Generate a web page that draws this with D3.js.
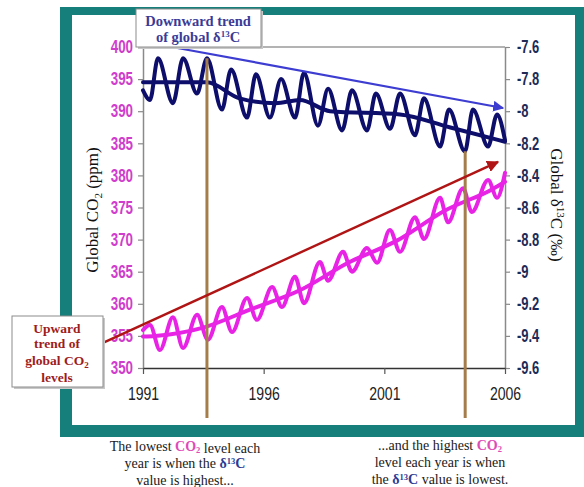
<!DOCTYPE html>
<html>
<head>
<meta charset="utf-8">
<script src="https://cdn.jsdelivr.net/npm/d3@7"></script>
<style>
  body { margin: 0; background: #fff; }
  svg { display: block; }
</style>
</head>
<body>
<div id="chart"></div>
<script>
// tick labels
const yearTicks = [1991, 1996, 2001, 2006];
const co2Ticks = [350, 355, 360, 365, 370, 375, 380, 385, 390, 395, 400];
const d13cTicks = [-9.6, -9.4, -9.2, -9.0, -8.8, -8.6, -8.4, -8.2, -8.0, -7.8, -7.6];

// global CO2 (ppm), seasonal peaks and troughs
const co2Time = [1991.00, 1991.29, 1991.70, 1992.24, 1992.66, 1993.24, 1993.69, 1994.27, 1994.69, 1995.31,
  1995.72, 1996.35, 1996.76, 1997.30, 1997.67, 1998.33, 1998.67, 1999.29, 1999.66, 2000.28, 2000.70,
  2001.23, 2001.65, 2002.27, 2002.64, 2003.31, 2003.64, 2004.26, 2004.63, 2005.30, 2005.67, 2006.00];
const co2Values = [355.9, 356.7, 352.8, 357.9, 353.1, 358.3, 354.4, 359.5, 355.6, 360.9,
  357.5, 362.6, 359.5, 364.2, 360.1, 366.5, 363.6, 368.1, 365.0, 368.7, 366.4,
  371.5, 368.1, 373.5, 370.1, 376.5, 372.7, 378.0, 374.3, 379.3, 376.5, 380.4];
const co2TrendTime = [1991.0, 1991.5, 1993.5, 1995.5, 1997.5, 1999.5, 2001.5, 2003.5, 2005.5, 2006.0];
const co2TrendValues = [354.9, 355.0, 356.3, 359.2, 362.1, 366.4, 369.8, 374.5, 377.9, 379.0];

// global delta 13C (per mil)
const d13cTime = [1991.00, 1991.29, 1991.62, 1992.24, 1992.66, 1993.24, 1993.65, 1994.27, 1994.65, 1995.31,
  1995.68, 1996.26, 1996.72, 1997.30, 1997.67, 1998.25, 1998.67, 1999.25, 1999.66, 2000.28, 2000.65,
  2001.24, 2001.65, 2002.27, 2002.64, 2003.31, 2003.68, 2004.34, 2004.67, 2005.30, 2005.67, 2006.00];
const d13cValues = [-7.87, -7.93, -7.67, -7.95, -7.67, -7.89, -7.67, -7.99, -7.74, -8.04,
  -7.77, -8.04, -7.80, -8.04, -7.76, -8.09, -7.86, -8.12, -7.87, -8.12, -7.89,
  -8.11, -7.89, -8.15, -7.92, -8.22, -7.99, -8.25, -7.99, -8.22, -8.02, -8.18];
const d13cTrendTime = [1991.0, 1993.65, 1995.0, 1996.5, 1997.5, 1998.75, 2001.65, 2003.7, 2006.0];
const d13cTrendValues = [-7.82, -7.82, -7.92, -7.95, -7.93, -8.00, -8.02, -8.10, -8.19];

// the two highlighted years (vertical lines) and the delta13C value where each line starts
const markerYears = [1993.65, 2004.35];
const markerTops = [-7.67, -8.25];

const width = 584, height = 487;
const plot = {left: 143, right: 505, top: 47, bottom: 368};

const teal = '#167f7b';
const navy = '#0d0d6b';
const magenta = '#e823e6';
const magentaText = '#d03ccc';
const brown = '#a57d4a';

const svg = d3.select('#chart').append('svg')
  .attr('width', width)
  .attr('height', height);

const defs = svg.append('defs');
[['blueHead', '#3d3dd2'], ['redHead', '#b01414']].forEach(([id, col]) => {
  defs.append('marker')
    .attr('id', id)
    .attr('viewBox', '0 0 10 10')
    .attr('refX', 9).attr('refY', 5)
    .attr('markerWidth', 5).attr('markerHeight', 5)
    .attr('orient', 'auto')
    .append('path')
    .attr('d', 'M0,0 L10,5 L0,10 z')
    .attr('fill', col);
});

// squeeze text horizontally, the labels use a narrow face in the original
function squeeze(sel, k) {
  sel.each(function() {
    const w = this.getComputedTextLength();
    d3.select(this).attr('textLength', w * k).attr('lengthAdjust', 'spacingAndGlyphs');
  });
}

// teal frame
svg.append('rect').attr('x', 60).attr('y', 7).attr('width', 524).attr('height', 430).attr('fill', teal);
svg.append('rect').attr('x', 72).attr('y', 15).attr('width', 503).attr('height', 410).attr('fill', '#fff');

const x = d3.scaleLinear().domain([1991, 2006]).range([plot.left, plot.right]);
const yCo2 = d3.scaleLinear().domain([350, 400]).range([plot.bottom, plot.top]);
const yD13c = d3.scaleLinear().domain([-9.6, -7.6]).range([plot.bottom, plot.top]);

// top border of the plot
svg.append('line')
  .attr('x1', plot.left).attr('x2', plot.right)
  .attr('y1', plot.top).attr('y2', plot.top)
  .attr('stroke', '#9a9a9a').attr('stroke-width', 1.5);

const sans = "'Liberation Sans', Arial, sans-serif";

const leftAxis = svg.append('g')
  .attr('transform', 'translate(' + plot.left + ',0)')
  .call(d3.axisLeft(yCo2).tickValues(co2Ticks).tickSize(5).tickPadding(5).tickSizeOuter(0));
leftAxis.selectAll('text')
  .attr('fill', magentaText)
  .style('font-family', sans).style('font-size', '18px').style('font-weight', 'bold')
  .call(squeeze, 0.74);

const rightAxis = svg.append('g')
  .attr('transform', 'translate(' + plot.right + ',0)')
  .call(d3.axisRight(yD13c).tickValues(d13cTicks).tickSize(5).tickPadding(7).tickSizeOuter(0)
    .tickFormat(d => String(+d.toFixed(1))));
rightAxis.selectAll('text')
  .attr('fill', '#1d2b57')
  .style('font-family', sans).style('font-size', '18px').style('font-weight', 'bold')
  .call(squeeze, 0.72);

const bottomAxis = svg.append('g')
  .attr('transform', 'translate(0,' + plot.bottom + ')')
  .call(d3.axisBottom(x).tickValues(yearTicks).tickSize(6).tickPadding(13).tickSizeOuter(0)
    .tickFormat(d3.format('d')));
bottomAxis.selectAll('text')
  .attr('fill', '#222')
  .style('font-family', sans).style('font-size', '18px')
  .call(squeeze, 0.78);

[leftAxis, rightAxis].forEach(g => {
  g.select('.domain').attr('stroke', '#8a8a8a').attr('stroke-width', 1.5);
  g.selectAll('.tick line').attr('stroke', '#8a8a8a').attr('stroke-width', 1.2);
});
bottomAxis.select('.domain').attr('stroke', '#333').attr('stroke-width', 1.5);
bottomAxis.selectAll('.tick line').attr('stroke', '#555').attr('stroke-width', 1.2);

// axis titles
svg.append('text')
  .attr('transform', 'translate(98,210) rotate(-90)')
  .attr('text-anchor', 'middle')
  .style('font-family', "'Liberation Serif', serif").style('font-size', '17px').attr('fill', '#111')
  .call(t => {
    t.append('tspan').text('Global CO');
    t.append('tspan').attr('dy', 4).style('font-size', '11px').text('2');
    t.append('tspan').attr('dy', -4).text(' (ppm)');
  });

svg.append('text')
  .attr('transform', 'translate(551,205) rotate(90)')
  .attr('text-anchor', 'middle')
  .style('font-family', "'Liberation Serif', serif").style('font-size', '17px').attr('fill', '#111')
  .call(t => {
    t.append('tspan').text('Global δ');
    t.append('tspan').attr('dy', -6).style('font-size', '11px').text('13');
    t.append('tspan').attr('dy', 6).text('C (‰)');
  });

// series
const co2Pts = co2Time.map((t, i) => [t, co2Values[i]]);
const co2Trend = co2TrendTime.map((t, i) => [t, co2TrendValues[i]]);
const d13cPts = d13cTime.map((t, i) => [t, d13cValues[i]]);
const d13cTrend = d13cTrendTime.map((t, i) => [t, d13cTrendValues[i]]);

const lineCo2 = d3.line().x(d => x(d[0])).y(d => yCo2(d[1])).curve(d3.curveMonotoneX);
const lineD13c = d3.line().x(d => x(d[0])).y(d => yD13c(d[1])).curve(d3.curveMonotoneX);

[[co2Pts, lineCo2, magenta], [co2Trend, lineCo2, magenta],
 [d13cPts, lineD13c, navy], [d13cTrend, lineD13c, navy]].forEach(([data, gen, col]) => {
  svg.append('path')
    .datum(data)
    .attr('d', gen)
    .attr('fill', 'none')
    .attr('stroke', col)
    .attr('stroke-width', 4)
    .attr('stroke-linejoin', 'round')
    .attr('stroke-linecap', 'round');
});

// highlighted years
svg.selectAll('.marker')
  .data(markerYears)
  .enter().append('line')
  .attr('x1', d => x(d)).attr('x2', d => x(d))
  .attr('y1', (d, i) => yD13c(markerTops[i]))
  .attr('y2', 418)
  .attr('stroke', brown)
  .attr('stroke-width', 3);

// trend arrows
svg.append('line')
  .attr('x1', x(1992.2)).attr('y1', yD13c(-7.6))
  .attr('x2', x(2005.92)).attr('y2', yD13c(-7.98))
  .attr('stroke', '#3d3dd2').attr('stroke-width', 2.2)
  .attr('marker-end', 'url(#blueHead)');

svg.append('line')
  .attr('x1', x(1989.34)).attr('y1', yCo2(353.9))
  .attr('x2', x(2005.71)).attr('y2', yCo2(382.1))
  .attr('stroke', '#b01414').attr('stroke-width', 2.4)
  .attr('marker-end', 'url(#redHead)');

// annotation boxes
const serifBold = "'Liberation Serif', 'DejaVu Serif', serif";

function box(x0, y0, w, h) {
  svg.append('rect').attr('x', x0 + 2).attr('y', y0 + 2).attr('width', w).attr('height', h).attr('fill', '#c8c8c8');
  svg.append('rect').attr('x', x0).attr('y', y0).attr('width', w).attr('height', h)
    .attr('fill', '#fff').attr('stroke', '#8c8c8c').attr('stroke-width', 1);
}

box(136, 9, 125, 38);
const downText = svg.append('text')
  .attr('text-anchor', 'middle')
  .style('font-family', serifBold).style('font-size', '14.5px').style('font-weight', 'bold')
  .attr('fill', '#3b3b97');
downText.append('tspan').attr('x', 198).attr('y', 26).text('Downward trend');
downText.append('tspan').attr('x', 198).attr('y', 42).text('of global δ')
  .append('tspan').attr('dy', -5).style('font-size', '9px').text('13');
downText.append('tspan').attr('dy', 5).text('C');

box(12, 316, 91, 71);
const upText = svg.append('text')
  .attr('text-anchor', 'middle')
  .style('font-family', serifBold).style('font-size', '13.5px').style('font-weight', 'bold')
  .attr('fill', '#9e1c1c');
upText.append('tspan').attr('x', 57).attr('y', 333).text('Upward');
upText.append('tspan').attr('x', 57).attr('y', 348).text('trend of');
upText.append('tspan').attr('x', 57).attr('y', 365).text('global CO');
upText.append('tspan').attr('dy', 3).style('font-size', '9px').text('2');
upText.append('tspan').attr('x', 57).attr('y', 382).attr('dy', 0).text('levels');

// captions
const capFont = "'Liberation Serif', serif";
function caption(cx, y, parts) {
  const t = svg.append('text')
    .attr('x', cx).attr('y', y)
    .attr('text-anchor', 'middle')
    .style('font-family', capFont).style('font-size', '14px')
    .attr('fill', '#1a1a1a');
  parts.forEach(p => {
    if (p === 'CO2') {
      t.append('tspan').attr('fill', '#e04bb7').style('font-weight', 'bold').text('CO');
      t.append('tspan').attr('fill', '#e04bb7').style('font-weight', 'bold').attr('dy', 2).style('font-size', '8.5px').text('2');
      t.append('tspan').attr('dy', -2).text('');
    } else if (p === 'd13C') {
      t.append('tspan').attr('fill', '#2c3a93').style('font-weight', 'bold').text('δ');
      t.append('tspan').attr('fill', '#2c3a93').style('font-weight', 'bold').attr('dy', -4).style('font-size', '8.5px').text('13');
      t.append('tspan').attr('fill', '#2c3a93').style('font-weight', 'bold').attr('dy', 4).text('C');
    } else {
      t.append('tspan').text(p);
    }
  });
}

caption(185, 451, ['The lowest ', 'CO2', ' level each']);
caption(185, 468, ['year is when the ', 'd13C']);
caption(185, 485, ['value is highest...']);

caption(440, 450, ['...and the highest ', 'CO2']);
caption(440, 467, ['level each year is when']);
caption(440, 484, ['the ', 'd13C', ' value is lowest.']);
</script>
</body>
</html>
